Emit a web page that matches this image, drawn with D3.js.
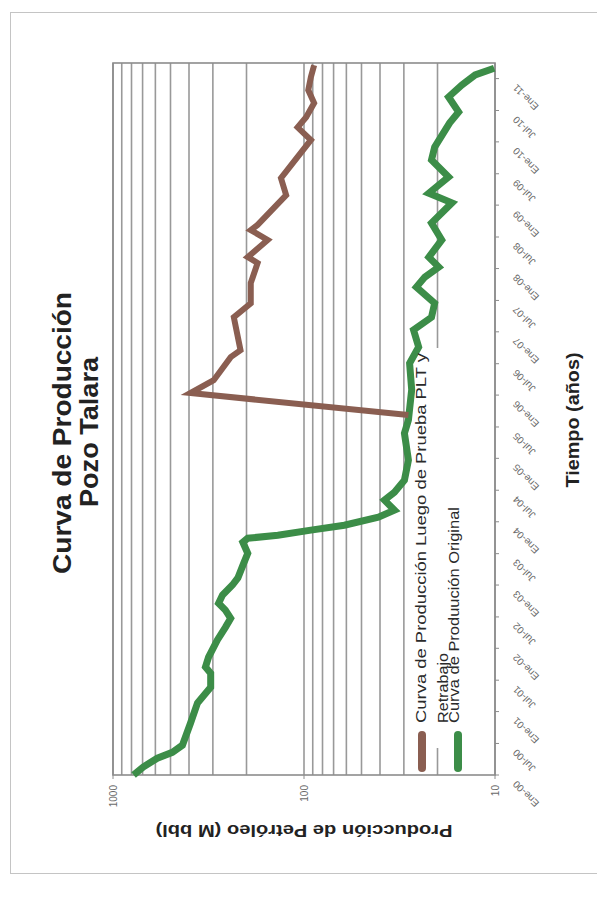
<!DOCTYPE html>
<html>
<head>
<meta charset="utf-8">
<script src="https://cdn.jsdelivr.net/npm/d3@7"></script>
<style>
  body { margin: 0; background: #fff; }
  svg { display: block; }
  text { font-family: "Liberation Sans", Arial, Helvetica, sans-serif; }
</style>
</head>
<body>
<svg id="chart" width="597" height="900"></svg>
<script>
// Producción original del pozo (M bbl)
const originalDates = [
  "2000-01-01","2000-02-16","2000-04-07","2000-05-11","2000-06-21","2000-10-26",
  "2001-02-20","2001-05-21","2001-08-10","2001-09-15","2001-11-11","2002-02-18",
  "2002-05-02","2002-06-23","2002-08-09","2002-09-18","2002-11-04","2003-01-01",
  "2003-02-11","2003-05-06","2003-07-03","2003-09-05","2003-09-28","2003-10-15",
  "2003-11-14","2003-12-12","2004-01-28","2004-03-08","2004-05-05","2004-06-20",
  "2004-08-28","2004-12-22","2005-05-26","2005-08-10","2006-02-01","2006-07-04",
  "2006-10-05","2007-01-12","2007-03-26","2007-06-15","2007-09-16","2007-11-13",
  "2008-01-10","2008-03-07","2008-06-14","2008-09-20","2009-01-14","2009-03-11",
  "2009-06-12","2009-09-19","2009-12-02","2010-04-19","2010-06-22","2010-09-17",
  "2010-11-25","2011-01-22","2011-03-02"
];
const originalValues = [
  780, 695, 586, 489, 433, 393,
  361, 308, 308, 328, 316, 284,
  258, 242, 258, 280, 267, 237,
  222, 207, 197, 209, 197, 137,
  92, 61.5, 40.8, 33.6, 37.9, 33.6,
  29.8, 28.4, 29.8, 28.4, 27.3, 28,
  25.1, 26.7, 21.5, 20.7, 25.8, 23.3,
  19.7, 22.2, 19, 21.5, 16.8, 22.2,
  17.5, 21.5, 20.7, 17.3, 15.5, 17.5,
  14.9, 12.7, 10.1
];

// Producción luego de la prueba PLT y el retrabajo (M bbl)
const retrabajoDates = [
  "2005-09-08","2006-01-13","2006-03-28","2006-08-08","2006-09-17","2007-03-26",
  "2007-06-15","2007-10-09","2008-02-02","2008-03-07","2008-06-14","2008-08-10",
  "2008-09-09","2009-02-28","2009-06-06","2010-01-12","2010-03-26","2010-05-23",
  "2010-08-13","2010-10-27","2011-01-11","2011-03-19"
];
const retrabajoValues = [
  28.4, 393, 297, 242, 215, 233,
  190, 190, 175, 197, 155, 190,
  175, 124, 132, 92, 108, 97.5,
  88.5, 95, 92, 88.5
];

const timeTickDates = [
  "2000-01","2000-07","2001-01","2001-07","2002-01","2002-07","2003-01","2003-07",
  "2004-01","2004-07","2005-01","2005-07","2006-01","2006-07","2007-01","2007-07",
  "2008-01","2008-07","2009-01","2009-07","2010-01","2010-07","2011-01"
];
const timeTickLabels = [
  "Ene-00","Jul-00","Ene-01","Jul-01","Ene-02","Jul-02","Ene-03","Jul-03",
  "Ene-04","Jul-04","Ene-05","Jul-05","Ene-06","Jul-06","Ene-07","Jul-07",
  "Ene-08","Jul-08","Ene-09","Jul-09","Ene-10","Jul-10","Ene-11"
];
const valueTicks = [10, 100, 1000];
const valueTickLabels = ["10", "100", "1000"];

const titleLines = ["Curva de Producción", "Pozo Talara"];
const xTitle = "Tiempo (años)";
const yTitle = "Producción de Petróleo (M bbl)";
const legendRetrabajo = ["Curva de Producción Luego de Prueba PLT y", "Retrabajo"];
const legendOriginal = ["Curva de Produución Original"];

const colorRetrabajo = "#8a5e51";
const colorOriginal = "#3c8d48";

const parseDay = d3.timeParse("%Y-%m-%d");
const parseMonth = d3.timeParse("%Y-%m");

const original = originalDates.map((d, i) => ({ date: parseDay(d), value: originalValues[i] }));
const retrabajo = retrabajoDates.map((d, i) => ({ date: parseDay(d), value: retrabajoValues[i] }));

const svg = d3.select("#chart");

// outer frame of the chart object
svg.append("rect")
  .attr("x", 10.5).attr("y", 12.5)
  .attr("width", 620).attr("height", 861)
  .attr("fill", "none").attr("stroke", "#c4c4c4").attr("stroke-width", 1);

// the chart is laid out landscape (900 x 597) and turned a quarter turn
const g = svg.append("g").attr("transform", "translate(0,900) rotate(-90)");

const x = d3.scaleTime()
  .domain([new Date(2000, 0, 1), new Date(2011, 3, 1)])
  .range([125, 837]);
const y = d3.scaleLog()
  .domain([10, 1000])
  .range([495, 113]);

const [x0, x1] = x.range();
const [yb, yt] = y.range();

// log gridlines (1..9 per decade)
g.append("g").selectAll("line")
  .data(y.ticks())
  .join("line")
  .attr("x1", x0).attr("x2", x1)
  .attr("y1", d => y(d)).attr("y2", d => y(d))
  .attr("stroke", "#999").attr("stroke-width", 1.6);

// legend background hides the gridlines beneath it
g.append("rect")
  .attr("x", 152).attr("y", 412)
  .attr("width", 400).attr("height", 66)
  .attr("fill", "#fff");

// plot frame
g.append("rect")
  .attr("x", x0).attr("y", yt)
  .attr("width", x1 - x0).attr("height", yb - yt)
  .attr("fill", "none").attr("stroke", "#8c8c8c").attr("stroke-width", 1.6);

const line = d3.line()
  .x(d => x(d.date))
  .y(d => y(d.value));

g.append("path")
  .datum(original)
  .attr("d", line)
  .attr("fill", "none")
  .attr("stroke", colorOriginal)
  .attr("stroke-width", 7)
  .attr("stroke-linejoin", "miter");

g.append("path")
  .datum(retrabajo)
  .attr("d", line)
  .attr("fill", "none")
  .attr("stroke", colorRetrabajo)
  .attr("stroke-width", 6)
  .attr("stroke-linejoin", "miter");

// time axis
const tickDates = timeTickDates.map(parseMonth);
g.append("g").selectAll("line")
  .data(tickDates)
  .join("line")
  .attr("x1", d => x(d)).attr("x2", d => x(d))
  .attr("y1", yb).attr("y2", yb + 4)
  .attr("stroke", "#8c8c8c").attr("stroke-width", 1);

g.append("g").selectAll("text")
  .data(tickDates)
  .join("text")
  .attr("transform", d => `translate(${x(d) - 5},${yb + 22}) rotate(-45)`)
  .attr("text-anchor", "end")
  .attr("font-size", 10)
  .attr("fill", "#6a6a6a")
  .text((d, i) => timeTickLabels[i]);

// value axis
g.append("g").selectAll("line")
  .data(valueTicks)
  .join("line")
  .attr("x1", x0 - 4).attr("x2", x0)
  .attr("y1", d => y(d)).attr("y2", d => y(d))
  .attr("stroke", "#8c8c8c").attr("stroke-width", 1);

g.append("g").selectAll("text")
  .data(valueTicks)
  .join("text")
  .attr("x", 115)
  .attr("y", d => y(d))
  .attr("dy", "0.35em")
  .attr("text-anchor", "end")
  .attr("font-size", 10)
  .attr("fill", "#6a6a6a")
  .text((d, i) => valueTickLabels[i]);

// titles
const titleText = g.append("g")
  .attr("font-weight", "bold")
  .attr("font-size", 26)
  .attr("fill", "#222");
titleText.append("text")
  .attr("x", 467).attr("y", 71)
  .attr("text-anchor", "middle")
  .attr("textLength", 282).attr("lengthAdjust", "spacingAndGlyphs")
  .text(titleLines[0]);
titleText.append("text")
  .attr("x", 468).attr("y", 98)
  .attr("text-anchor", "middle")
  .attr("textLength", 150).attr("lengthAdjust", "spacingAndGlyphs")
  .text(titleLines[1]);

g.append("text")
  .attr("x", 480).attr("y", 579)
  .attr("text-anchor", "middle")
  .attr("font-weight", "bold")
  .attr("font-size", 19)
  .attr("fill", "#222")
  .attr("textLength", 135).attr("lengthAdjust", "spacingAndGlyphs")
  .text(xTitle);

g.append("text")
  .attr("transform", `translate(75,${(yb + yt) / 2}) rotate(-90)`)
  .attr("text-anchor", "middle")
  .attr("font-weight", "bold")
  .attr("font-size", 17)
  .attr("fill", "#222")
  .attr("textLength", 297).attr("lengthAdjust", "spacingAndGlyphs")
  .text(yTitle);

// legend
const legend = g.append("g").attr("font-size", 15).attr("fill", "#2a2a2a");
legend.append("line")
  .attr("x1", 132).attr("x2", 165).attr("y1", 422).attr("y2", 422)
  .attr("stroke", colorRetrabajo).attr("stroke-width", 8).attr("stroke-linecap", "round");
legend.append("line")
  .attr("x1", 132).attr("x2", 165).attr("y1", 458).attr("y2", 458)
  .attr("stroke", colorOriginal).attr("stroke-width", 8).attr("stroke-linecap", "round");
legend.append("text")
  .attr("x", 177).attr("y", 426)
  .attr("textLength", 370).attr("lengthAdjust", "spacingAndGlyphs")
  .text(legendRetrabajo[0]);
legend.append("text")
  .attr("x", 177).attr("y", 448)
  .attr("textLength", 70).attr("lengthAdjust", "spacingAndGlyphs")
  .text(legendRetrabajo[1]);
legend.append("text")
  .attr("x", 177).attr("y", 459)
  .attr("textLength", 216).attr("lengthAdjust", "spacingAndGlyphs")
  .text(legendOriginal[0]);
</script>
</body>
</html>
